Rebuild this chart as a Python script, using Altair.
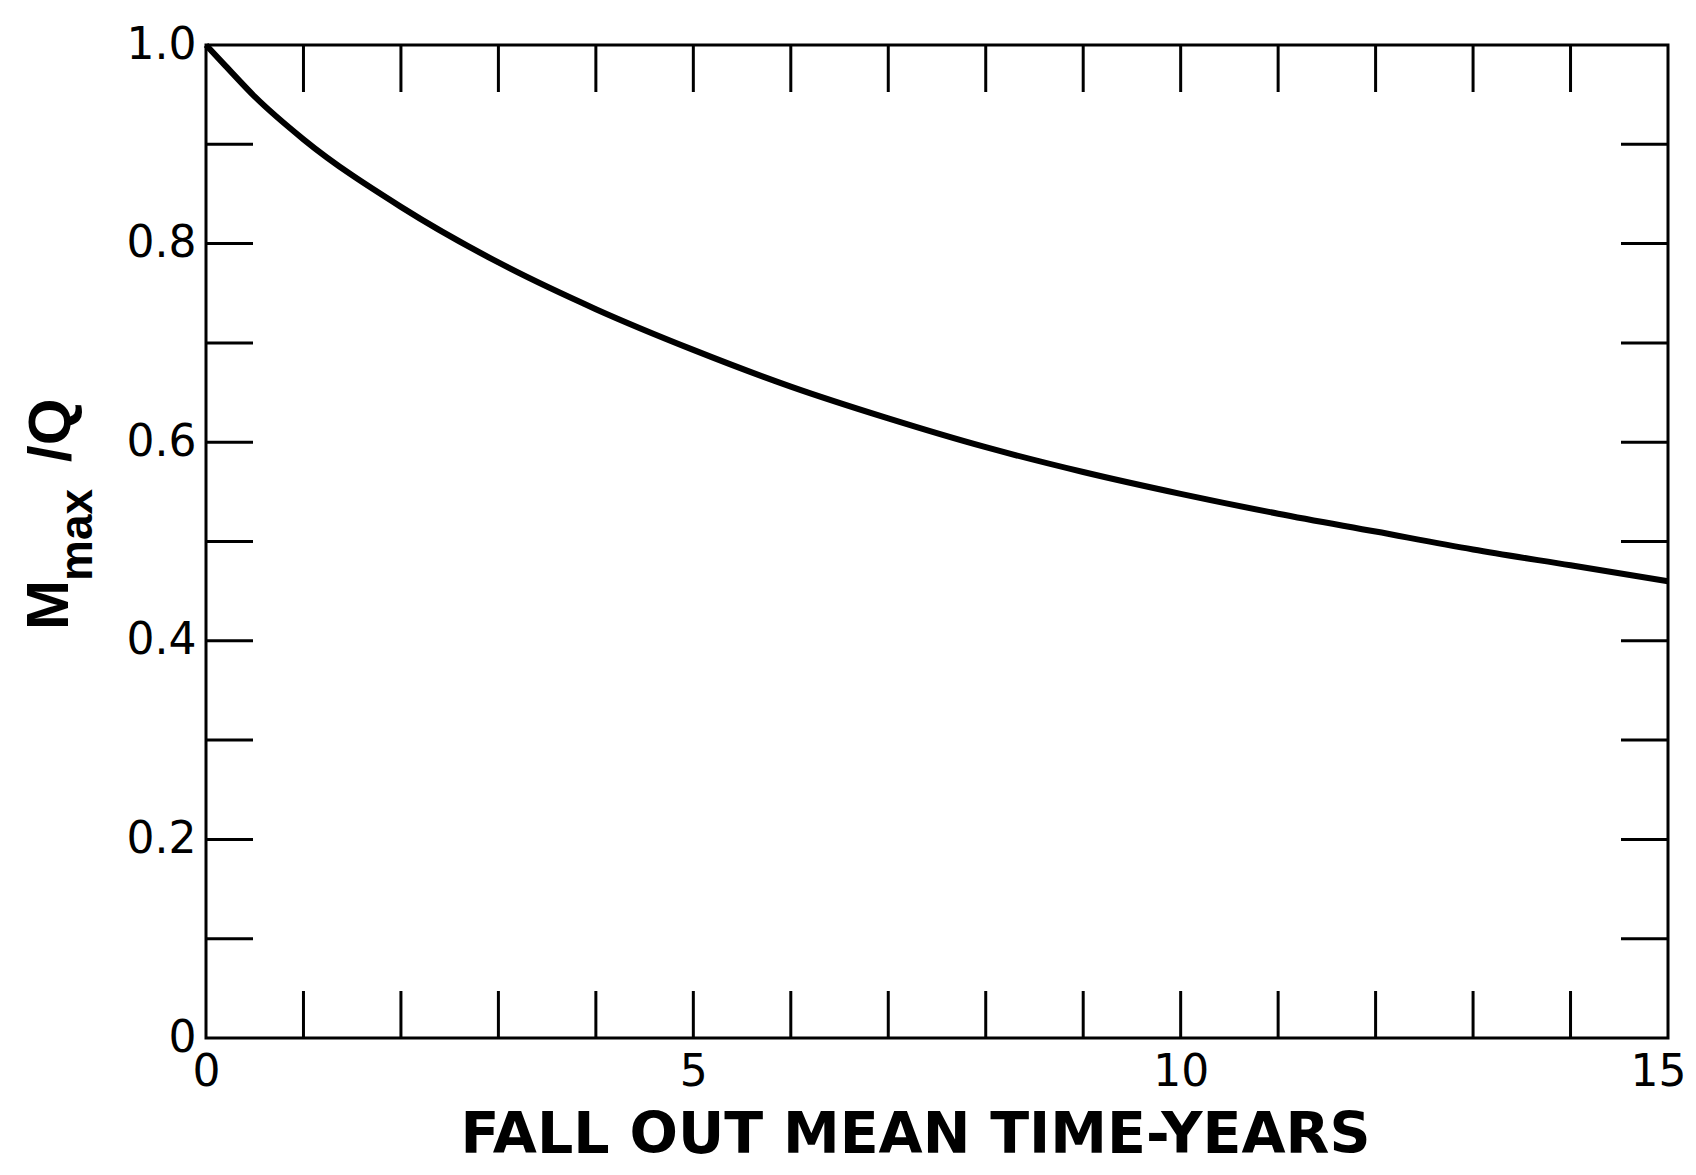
import altair as alt
import pandas as pd

# Curve
fallout_time = [0, 0.2, 0.5, 1, 2, 3, 4, 5, 6, 7, 8, 9, 10, 11, 12, 13, 14, 15]
mmax_q = [1.0, 0.979, 0.948, 0.905, 0.837, 0.781, 0.734, 0.693, 0.656, 0.624,
          0.595, 0.570, 0.548, 0.528, 0.510, 0.492, 0.476, 0.460]

# Axis ticks / labels
x_label_values = [0, 5, 10, 15]
y_label_values = [0, 0.2, 0.4, 0.6, 0.8, 1.0]
x_minor_ticks = [1, 2, 3, 4, 5, 6, 7, 8, 9, 10, 11, 12, 13, 14]
y_minor_ticks = [0.1, 0.2, 0.3, 0.4, 0.5, 0.6, 0.7, 0.8, 0.9]

x_title = "FALL OUT MEAN TIME-YEARS"
y_title_parts = ["M", "max", "/Q"]

W, H = 1462, 993
TICK = 47
LFONT = "DejaVu Sans"
TFONT = "DejaVu Sans"
YFONT = "Liberation Sans"

xs = alt.Scale(domain=[0, 15], nice=False, zero=False)
ys = alt.Scale(domain=[0, 1], nice=False, zero=False)

x_axis = alt.Axis(values=x_label_values, title=x_title, tickSize=0, domain=False,
                  grid=False, labelFont=LFONT, labelFontSize=44, labelColor="black",
                  labelPadding=12, titleFont=TFONT, titleFontSize=57,
                  titleFontWeight="bold", titleColor="black",
                  titleX=W / 2 - 22, titleY=114, titleBaseline="alphabetic",
                  titleAlign="center", labelFlush=False,
                  labelOffset={"condition": {"test": "datum.value == 15", "value": -10},
                               "value": 0})
y_axis = alt.Axis(values=y_label_values, title=None, tickSize=0, domain=False,
                  grid=False, labelFont=LFONT, labelFontSize=44, labelColor="black",
                  labelPadding=10, labelFlush=False,
                  labelExpr="datum.value == 0 ? '0' : format(datum.value, '.1f')")

df = pd.DataFrame({"t": fallout_time, "m": mmax_q})

curve = alt.Chart(df).mark_line(color="black", strokeWidth=6,
                                interpolate="monotone").encode(
    x=alt.X("t:Q", scale=xs, axis=x_axis),
    y=alt.Y("m:Q", scale=ys, axis=y_axis),
)

xt = pd.DataFrame({"t": x_minor_ticks})
yt = pd.DataFrame({"m": y_minor_ticks})

bottom_ticks = alt.Chart(xt).mark_rule(color="black", strokeWidth=3).encode(
    x=alt.X("t:Q", scale=xs, axis=x_axis), y=alt.value(H), y2=alt.value(H - TICK))
top_ticks = alt.Chart(xt).mark_rule(color="black", strokeWidth=3).encode(
    x=alt.X("t:Q", scale=xs, axis=x_axis), y=alt.value(0), y2=alt.value(TICK))
left_ticks = alt.Chart(yt).mark_rule(color="black", strokeWidth=3).encode(
    y=alt.Y("m:Q", scale=ys, axis=y_axis), x=alt.value(0), x2=alt.value(TICK))
right_ticks = alt.Chart(yt).mark_rule(color="black", strokeWidth=3).encode(
    y=alt.Y("m:Q", scale=ys, axis=y_axis), x=alt.value(W - TICK), x2=alt.value(W))

one = pd.DataFrame({"s": [0]})
t_M = alt.Chart(one).mark_text(text=y_title_parts[0], font=YFONT, fontSize=60,
                               fontWeight="bold", angle=270, align="left",
                               baseline="alphabetic", color="black").encode(
    x=alt.value(-138), y=alt.value(585))
t_max = alt.Chart(one).mark_text(text=y_title_parts[1], font=YFONT, fontSize=46,
                                 fontWeight="bold", angle=270, align="left",
                                 baseline="alphabetic", color="black").encode(
    x=alt.value(-114), y=alt.value(536))
t_Q = alt.Chart(one).mark_text(text=y_title_parts[2], font=YFONT, fontSize=60,
                               fontWeight="bold", angle=270, align="left",
                               baseline="alphabetic", color="black").encode(
    x=alt.value(-136), y=alt.value(417))

chart = alt.layer(curve, bottom_ticks, top_ticks, left_ticks, right_ticks,
                  t_M, t_max, t_Q).properties(
    width=W, height=H,
    autosize=alt.AutoSizeParams(type="none"),
    padding={"left": 198, "top": 37, "right": 20, "bottom": 129},
    background="white",
).configure_view(stroke="black", strokeWidth=3)

chart.save("out.html", embed_options={"renderer": "svg", "actions": False})
